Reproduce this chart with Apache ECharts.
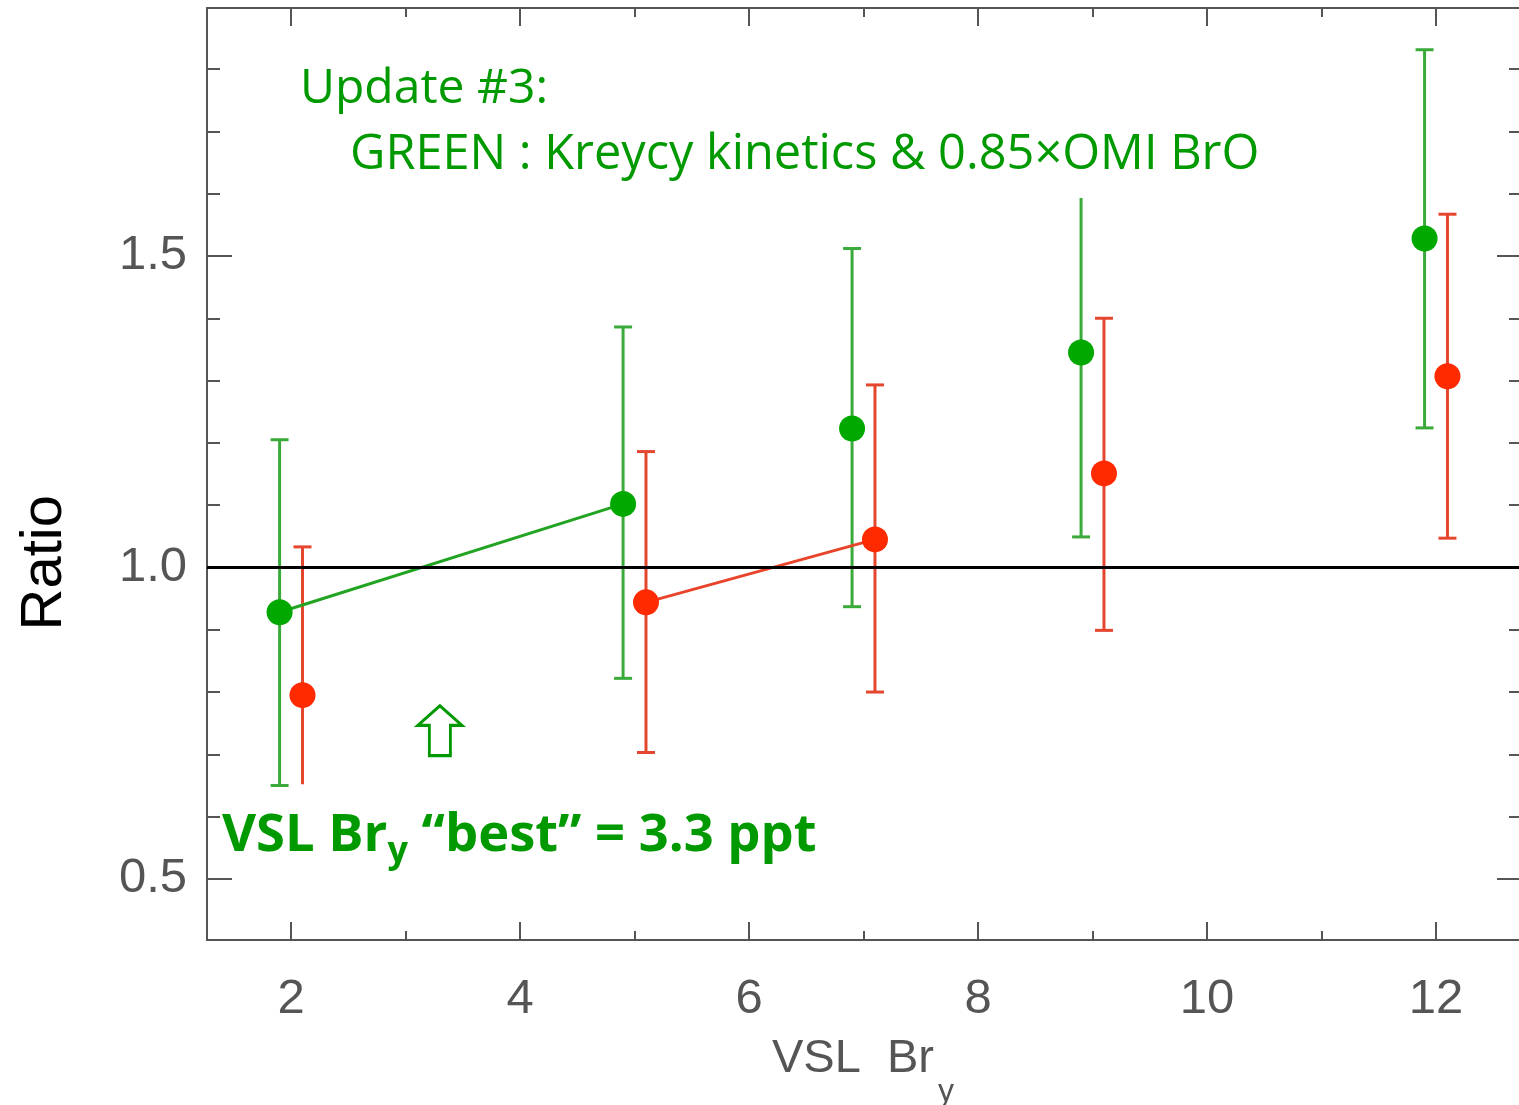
<!DOCTYPE html>
<html>
<head>
<meta charset="utf-8">
<script src="https://cdn.jsdelivr.net/npm/echarts@6/dist/echarts.min.js"></script>
<style>
  html, body { margin: 0; padding: 0; background: #ffffff; }
  #chart { width: 1519px; height: 1105px; }
</style>
</head>
<body>
<div id="chart"></div>
<script>
// Ratio vs. VSL Br_y, two model configurations (green / red) with uncertainty ranges
const greenX     = [1.9, 4.9, 6.9, 8.9, 11.9];
const greenRatio = [0.928, 1.102, 1.223, 1.345, 1.528];
const greenLow   = [0.650, 0.822, 0.937, 1.049, 1.224];
const greenHigh  = [1.205, 1.386, 1.512, 1.593, 1.831];

const redX     = [2.1, 5.1, 7.1, 9.1, 12.1];
const redRatio = [0.795, 0.944, 1.045, 1.151, 1.307];
const redLow   = [0.652, 0.703, 0.800, 0.899, 1.047];
const redHigh  = [1.033, 1.186, 1.293, 1.400, 1.567];

// points joined by a segment
const greenLinked = [0, 1];
const redLinked   = [1, 2];

const xMajorTicks = [2, 4, 6, 8, 10, 12];
const xMinorTicks = [3, 5, 7, 9, 11];
const yMajorTicks = [0.5, 1.0, 1.5];
const yMinorTicks = [0.6, 0.7, 0.8, 0.9, 1.1, 1.2, 1.3, 1.4, 1.6, 1.7, 1.8];

const referenceRatio = 1.0;
const bestVslBry = 3.3;

const X_MIN = 1.266, X_MAX = 12.751;
const Y_MIN = 0.402, Y_MAX = 1.898;

const AXIS_COLOR = '#555555';
const LABEL_COLOR = '#555555';
const GREEN_BAR = '#3aab3a';
const GREEN_DOT = '#00a800';
const RED_BAR = '#e5462e';
const RED_DOT = '#ff2a00';
const TEXT_GREEN = '#009a00';

const zip3 = (a, b, c) => a.map((v, i) => [v, b[i], c[i]]);
const zip2 = (a, b) => a.map((v, i) => [v, b[i]]);

function errorBarRenderer(color, openLow, openHigh) {
  return function (params, api) {
    const x = api.value(0), lo = api.value(1), hi = api.value(2);
    const pLo = api.coord([x, lo]);
    const pHi = api.coord([x, hi]);
    const cap = 9;
    const style = { stroke: color, lineWidth: 3, fill: null };
    const children = [
      { type: 'line', shape: { x1: pLo[0], y1: pLo[1], x2: pHi[0], y2: pHi[1] }, style }
    ];
    if (!openHigh.includes(params.dataIndex)) {
      children.push({ type: 'line', shape: { x1: pHi[0] - cap, y1: pHi[1], x2: pHi[0] + cap, y2: pHi[1] }, style });
    }
    if (!openLow.includes(params.dataIndex)) {
      children.push({ type: 'line', shape: { x1: pLo[0] - cap, y1: pLo[1], x2: pLo[0] + cap, y2: pLo[1] }, style });
    }
    return { type: 'group', children };
  };
}

function xAxisDef(position, ticks, len, showLine, labels) {
  return {
    type: 'value', position, min: X_MIN, max: X_MAX, gridIndex: 0,
    axisLine: { show: showLine, onZero: false, lineStyle: { color: AXIS_COLOR, width: 2 } },
    axisTick: { show: true, inside: true, length: len, customValues: ticks,
                lineStyle: { color: AXIS_COLOR, width: 2 } },
    axisLabel: labels ? {
      show: true, customValues: xMajorTicks, margin: 35,
      fontFamily: 'Liberation Sans', fontSize: 49, color: LABEL_COLOR
    } : { show: false },
    splitLine: { show: false }
  };
}

function yAxisDef(position, ticks, len, showLine, labels) {
  return {
    type: 'value', position, min: Y_MIN, max: Y_MAX, gridIndex: 0,
    axisLine: { show: showLine, onZero: false, lineStyle: { color: AXIS_COLOR, width: 2 } },
    axisTick: { show: true, inside: true, length: len, customValues: ticks,
                lineStyle: { color: AXIS_COLOR, width: 2 } },
    axisLabel: labels ? {
      show: true, customValues: yMajorTicks, margin: 20,
      fontFamily: 'Liberation Sans', fontSize: 49, color: LABEL_COLOR,
      formatter: v => v.toFixed(1)
    } : { show: false },
    splitLine: { show: false }
  };
}

const chart = echarts.init(document.getElementById('chart'), null, { renderer: 'canvas' });

const option = {
  animation: false,
  backgroundColor: '#ffffff',
  grid: { left: 207, top: 8, width: 1315, height: 932, outerBoundsMode: 'none', containLabel: false },
  xAxis: [
    xAxisDef('bottom', xMajorTicks, 18, true, true),
    xAxisDef('bottom', xMinorTicks, 9, false, false),
    xAxisDef('top', xMajorTicks, 18, true, false),
    xAxisDef('top', xMinorTicks, 9, false, false)
  ],
  yAxis: [
    yAxisDef('left', yMajorTicks, 25, true, true),
    yAxisDef('left', yMinorTicks, 13, false, false),
    yAxisDef('right', yMajorTicks, 25, true, false),
    yAxisDef('right', yMinorTicks, 13, false, false)
  ],
  series: [
    {
      type: 'line', name: 'reference', data: [], silent: true,
      markLine: {
        silent: true, symbol: 'none', label: { show: false },
        lineStyle: { color: '#000000', width: 3, type: 'solid' },
        data: [{ yAxis: referenceRatio }]
      },
      markPoint: {
        silent: true,
        symbol: 'path://M23,0 L46,20 L34,20 L34,51 L12,51 L12,20 L0,20 Z',
        symbolSize: [44, 50],
        itemStyle: { color: 'rgba(255,255,255,0)', borderColor: TEXT_GREEN, borderWidth: 3 },
        label: { show: false },
        data: [{ coord: [bestVslBry, 0.738] }]
      }
    },
    {
      type: 'custom', name: 'green range', renderItem: errorBarRenderer(GREEN_BAR, [], [3]),
      encode: { x: 0, y: [1, 2] }, data: zip3(greenX, greenLow, greenHigh), z: 3
    },
    {
      type: 'custom', name: 'red range', renderItem: errorBarRenderer(RED_BAR, [0], []),
      encode: { x: 0, y: [1, 2] }, data: zip3(redX, redLow, redHigh), z: 3
    },
    {
      type: 'line', name: 'green link', showSymbol: false, symbol: 'none', z: 4,
      lineStyle: { color: '#22a322', width: 3 },
      data: greenLinked.map(i => [greenX[i], greenRatio[i]])
    },
    {
      type: 'line', name: 'red link', showSymbol: false, symbol: 'none', z: 4,
      lineStyle: { color: '#e8442a', width: 3 },
      data: redLinked.map(i => [redX[i], redRatio[i]])
    },
    {
      type: 'scatter', name: 'green', symbol: 'circle', symbolSize: 26, z: 5,
      itemStyle: { color: GREEN_DOT, opacity: 1 },
      data: zip2(greenX, greenRatio)
    },
    {
      type: 'scatter', name: 'red', symbol: 'circle', symbolSize: 26, z: 5,
      itemStyle: { color: RED_DOT, opacity: 1 },
      data: zip2(redX, redRatio)
    }
  ],
  graphic: [
    {
      type: 'text', left: 16, top: 495, rotation: Math.PI / 2, z: 10,
      style: { text: 'Ratio', fontFamily: 'Liberation Sans', fontSize: 58, fill: '#000000' }
    },
    {
      type: 'text', x: 772, y: 1036, z: 10,
      style: {
        text: '{a|VSL  Br}{s|y}',
        rich: {
          a: { fontFamily: 'Liberation Sans', fontSize: 47, fill: LABEL_COLOR, verticalAlign: 'top', lineHeight: 50 },
          s: { fontFamily: 'Liberation Sans', fontSize: 32, fill: LABEL_COLOR, verticalAlign: 'top', padding: [40, 0, 0, 4], lineHeight: 50 }
        }
      }
    },
    {
      type: 'text', x: 300, y: 65, z: 10,
      style: { text: 'Update #3:', fontFamily: 'Open Sans', fontSize: 48, fill: TEXT_GREEN }
    },
    {
      type: 'text', x: 350, y: 131, z: 10,
      style: { text: 'GREEN : Kreycy kinetics & 0.85\u00d7OMI BrO', fontFamily: 'Open Sans', fontSize: 48.7, fill: TEXT_GREEN }
    },
    {
      type: 'text', x: 222, y: 810, z: 10,
      style: {
        text: '{a|VSL Br}{s|y}{a| \u201cbest\u201d = 3.3 ppt}',
        rich: {
          a: { fontFamily: 'Open Sans', fontWeight: 'bold', fontSize: 52.5, fill: TEXT_GREEN, verticalAlign: 'top', lineHeight: 62 },
          s: { fontFamily: 'Open Sans', fontWeight: 'bold', fontSize: 36, fill: TEXT_GREEN, verticalAlign: 'top', padding: [24, 0, 0, 0], lineHeight: 62 }
        }
      }
    }
  ]
};

chart.setOption(option);
</script>
</body>
</html>
